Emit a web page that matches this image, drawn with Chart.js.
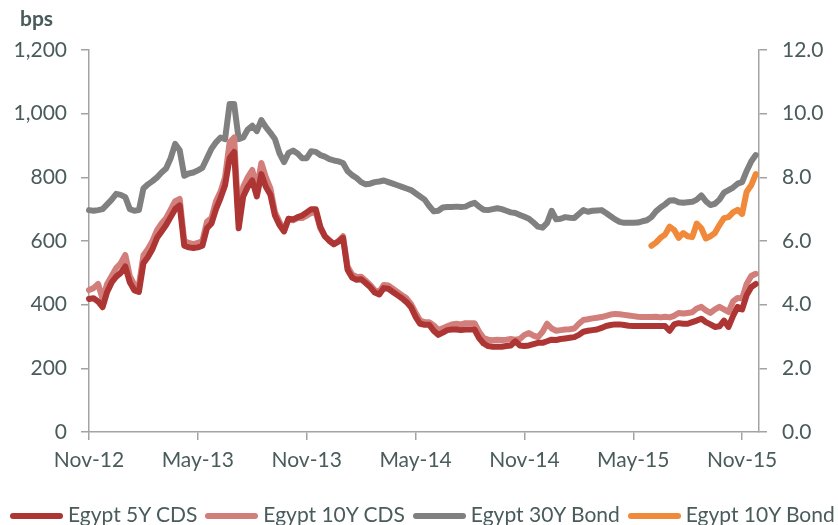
<!DOCTYPE html>
<html>
<head>
<meta charset="utf-8">
<script src="https://cdn.jsdelivr.net/npm/chart.js@4.4.1/dist/chart.umd.min.js"></script>
<style>
  html, body { margin: 0; padding: 0; background: #fff; overflow: hidden; }
  #wrap { position: relative; width: 838px; height: 525px; overflow: hidden; }
  #bps { position: absolute; left: 20px; top: 5px; font: bold 21px Lato, sans-serif; color: #4a5b5b; }
  canvas { position: absolute; left: 0; top: 0; }
  #legend { position: absolute; left: 10px; top: 500px; white-space: nowrap; font: 21px Lato, sans-serif; color: #4a5b5b; line-height: 28px; }
  #legend .item { display: inline-block; margin-right: 8px; }
  #legend .swatch { display: inline-block; width: 53px; height: 6px; border-radius: 3px; vertical-align: middle; margin-right: 5px; position: relative; top: -1px; }
</style>
</head>
<body>
<div id="wrap">
  <canvas id="c" width="838" height="525"></canvas>
  <div id="bps">bps</div>
  <div id="legend"></div>
</div>
<script>
// Sample dates: roughly weekly, in months since Nov-12 (0 = Nov-12)
const months = Array.from({ length: 148 }, (_, i) => i / 4);

const xTickMonths = [0, 6, 12, 18, 24, 30, 36];
const xTickLabels = ['Nov-12', 'May-13', 'Nov-13', 'May-14', 'Nov-14', 'May-15', 'Nov-15'];

// Egypt 5Y CDS (bps, left axis)
const cds5Y = [
  418,420,410,392,440,470,488,500,520,470,
  445,440,530,550,575,610,630,650,675,700,
  712,585,580,578,580,585,640,655,700,735,
  775,860,880,640,740,770,790,740,810,770,
  745,680,650,630,670,668,675,680,690,700,
  700,645,615,600,590,598,610,510,485,478,
  480,468,455,438,432,452,450,440,430,420,
  408,392,362,340,337,337,318,305,312,320,
  322,322,320,322,322,322,295,278,270,268,
  268,268,270,272,285,272,270,272,276,280,
  280,285,290,289,292,294,296,298,305,315,
  318,320,322,327,333,336,338,338,336,334,
  333,333,333,333,333,333,333,333,318,338,
  342,340,340,345,350,356,345,338,330,332,
  350,330,365,393,385,430,455,465
];

// Egypt 10Y CDS (bps, left axis)
const cds10Y = [
  446,452,465,418,465,490,515,530,556,490,
  462,460,555,575,600,634,655,672,698,725,
  732,600,594,590,594,600,660,672,725,755,
  800,910,925,660,770,800,823,765,845,800,
  765,690,660,634,670,665,672,672,680,688,
  690,640,615,603,590,600,615,520,495,487,
  488,475,462,445,440,462,460,450,440,430,
  420,402,375,350,345,345,335,320,326,332,
  338,340,338,342,342,342,315,295,290,288,
  290,289,290,292,290,292,305,311,303,298,
  315,340,325,318,320,322,323,325,340,352,
  354,357,359,361,365,369,371,370,368,366,
  364,362,361,361,361,362,360,362,360,365,
  374,372,374,376,388,393,382,374,385,393,
  385,377,410,421,420,465,490,497
];

// Egypt 30Y Bond (%, right axis)
const bond30Y = [
  6.97,6.95,6.97,7.0,7.15,7.3,7.48,7.45,7.38,7.0,
  6.95,6.97,7.65,7.78,7.88,8.0,8.15,8.28,8.6,9.05,
  8.85,8.05,8.12,8.15,8.22,8.3,8.6,8.9,9.1,9.25,
  9.2,10.3,10.3,9.2,9.25,9.5,9.62,9.45,9.8,9.58,
  9.4,9.2,8.75,8.48,8.77,8.84,8.75,8.6,8.6,8.82,
  8.8,8.7,8.65,8.57,8.53,8.5,8.45,8.2,8.07,7.98,
  7.85,7.78,7.8,7.85,7.87,7.9,7.85,7.8,7.75,7.7,
  7.65,7.6,7.5,7.4,7.3,7.1,6.93,6.95,7.05,7.07,
  7.07,7.08,7.07,7.08,7.15,7.2,7.08,6.98,6.97,7.0,
  7.03,7.0,6.95,6.9,6.88,6.82,6.76,6.7,6.58,6.45,
  6.42,6.57,6.95,6.68,6.7,6.75,6.73,6.72,6.85,6.97,
  6.92,6.95,6.96,6.97,6.88,6.78,6.68,6.6,6.57,6.57,
  6.57,6.58,6.62,6.65,6.75,6.93,7.05,7.15,7.27,7.28,
  7.22,7.2,7.22,7.23,7.3,7.43,7.25,7.13,7.17,7.3,
  7.52,7.6,7.68,7.8,7.85,8.2,8.5,8.7
];

// Egypt 10Y Bond (%, right axis) - series starts in June 2015
const bond10Y = [
  ...Array(124).fill(null),
  5.85,5.95,6.1,6.2,6.45,6.35,6.1,6.25,6.15,6.12,
  6.55,6.4,6.08,6.15,6.25,6.5,6.72,6.75,6.9,6.98,
  6.85,7.55,7.75,8.1
];

const seriesNames = ['Egypt 5Y CDS', 'Egypt 10Y CDS', 'Egypt 30Y Bond', 'Egypt 10Y Bond'];
const seriesColors = ['#ad3534', '#d27e7b', '#808080', '#f08a3a'];

function pts(vals) {
  const out = [];
  vals.forEach((v, i) => { if (v !== null && i < months.length) out.push({ x: months[i], y: v }); });
  return out;
}

const txt = '#4a5b5b';
const axisCol = '#a3a3a3';
const font = { family: 'Lato, sans-serif', size: 21 };

function ds(i, vals, axis) {
  return {
    label: seriesNames[i],
    data: pts(vals),
    yAxisID: axis,
    borderColor: seriesColors[i],
    backgroundColor: seriesColors[i],
    borderWidth: 6,
    pointRadius: 0,
    tension: 0,
    borderCapStyle: 'round',
    borderJoinStyle: 'round',
    clip: false
  };
}

const chart = new Chart(document.getElementById('c'), {
  type: 'line',
  data: {
    datasets: [
      ds(0, cds5Y, 'yL'),
      ds(1, cds10Y, 'yL'),
      ds(2, bond30Y, 'yR'),
      ds(3, bond10Y, 'yR')
    ]
  },
  options: {
    responsive: false,
    animation: false,
    events: [],
    layout: { padding: { top: 50, left: 0, right: 0, bottom: 31 } },
    plugins: {
      tooltip: { enabled: false },
      legend: { display: false }
    },
    scales: {
      x: {
        type: 'linear',
        min: 0,
        max: 36.93,
        afterBuildTicks: (s) => { s.ticks = xTickMonths.map(v => ({ value: v })); },
        afterFit: (s) => { s.height = 62; },
        ticks: {
          font: font,
          color: txt,
          padding: 8,
          maxRotation: 0,
          autoSkip: false,
          callback: (v) => { const k = xTickMonths.indexOf(v); return k >= 0 ? xTickLabels[k] : ''; }
        },
        grid: { drawOnChartArea: false, drawTicks: true, tickLength: 8, color: axisCol, lineWidth: 1.5 },
        border: { display: true, color: axisCol, width: 1.5 }
      },
      yL: {
        position: 'left',
        min: 0,
        max: 1200,
        afterFit: (s) => { s.width = 89; },
        ticks: { stepSize: 200, font: font, color: txt, padding: 14 },
        grid: { drawOnChartArea: false, drawTicks: true, tickLength: 8, color: axisCol, lineWidth: 1.5 },
        border: { display: true, color: axisCol, width: 1.5 }
      },
      yR: {
        position: 'right',
        min: 0,
        max: 12,
        afterFit: (s) => { s.width = 79; },
        ticks: { stepSize: 2, font: font, color: txt, padding: 15, callback: (v) => Number(v).toFixed(1) },
        grid: { drawOnChartArea: false, drawTicks: true, tickLength: 8, color: axisCol, lineWidth: 1.5 },
        border: { display: true, color: axisCol, width: 1.5 }
      }
    }
  }
});

// Legend (HTML text), built from the chart's datasets
const legendEl = document.getElementById('legend');
chart.data.datasets.forEach((d) => {
  const item = document.createElement('span');
  item.className = 'item';
  const sw = document.createElement('span');
  sw.className = 'swatch';
  sw.style.background = d.borderColor;
  item.appendChild(sw);
  item.appendChild(document.createTextNode(d.label));
  legendEl.appendChild(item);
});
</script>
</body>
</html>
